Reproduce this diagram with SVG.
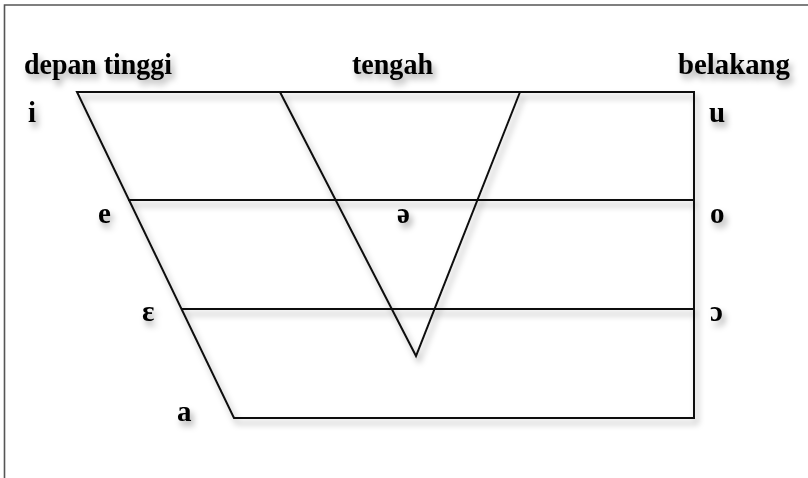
<svg xmlns="http://www.w3.org/2000/svg" width="808" height="478" viewBox="0 0 808 478">
<defs>
<filter id="sh" x="-10%" y="-10%" width="130%" height="140%">
<feDropShadow dx="3" dy="5" stdDeviation="3" flood-color="#000" flood-opacity="0.35"/>
</filter>
<style>
.ln{fill:none;stroke:#111;stroke-width:2;stroke-linejoin:miter}
.t{font-family:"Liberation Serif","Times New Roman",serif;font-weight:bold;font-size:29px;fill:#000}
</style>
</defs>
<rect width="808" height="478" fill="#fff"/>
<path d="M4.5,478 V5 H808" fill="none" stroke="#555" stroke-width="1.6"/>
<g id="connectors" filter="url(#sh)">
<polygon class="ln" points="77,92 694,92 694,418 234,418"/>
<line class="ln" x1="128" y1="200" x2="694" y2="200"/>
<line class="ln" x1="181" y1="309" x2="694" y2="309"/>
<polyline class="ln" points="280,92 416,356 520,92"/>
</g>
<g filter="url(#sh)">
<g id="lbl-depan"><text class="t" x="24" y="74" textLength="148" lengthAdjust="spacingAndGlyphs">depan tinggi</text></g>
<g id="lbl-tengah"><text class="t" x="352" y="74" textLength="81" lengthAdjust="spacingAndGlyphs">tengah</text></g>
<g id="lbl-belakang"><text class="t" x="678" y="74" textLength="112" lengthAdjust="spacingAndGlyphs">belakang</text></g>
<g id="v-i"><text class="t" x="28" y="122">i</text></g>
<g id="v-u"><text class="t" x="709" y="122">u</text></g>
<g id="v-e"><text class="t" x="98" y="223">e</text></g>
<g id="v-schwa"><text class="t" x="397" y="223">ə</text></g>
<g id="v-o"><text class="t" x="710" y="223">o</text></g>
<g id="v-epsilon"><text class="t" x="142" y="321">ɛ</text></g>
<g id="v-openo"><text class="t" x="710" y="321">ɔ</text></g>
<g id="v-a"><text class="t" x="177" y="421">a</text></g>
</g>
</svg>
